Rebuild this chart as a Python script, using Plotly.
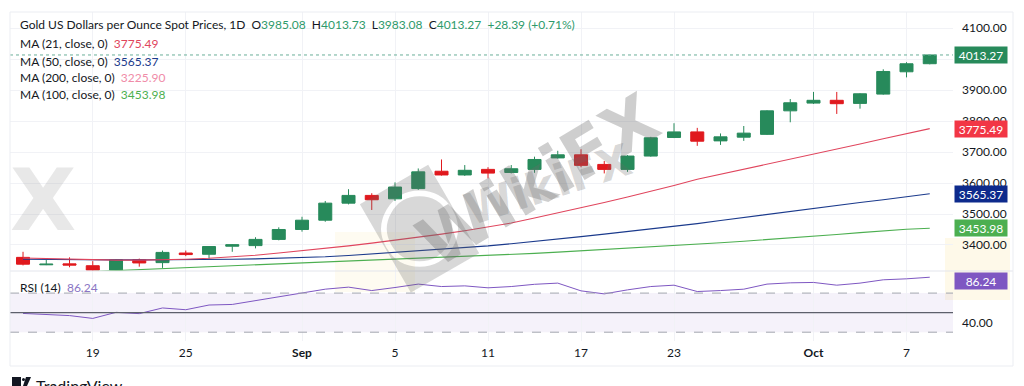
import plotly.graph_objects as go

# ---------------- data ----------------
dates = ["2025-08-14", "2025-08-15", "2025-08-18", "2025-08-19", "2025-08-20", "2025-08-21", "2025-08-22",
         "2025-08-25", "2025-08-26", "2025-08-27", "2025-08-28", "2025-08-29", "2025-09-01", "2025-09-02",
         "2025-09-03", "2025-09-04", "2025-09-05", "2025-09-08", "2025-09-09", "2025-09-10", "2025-09-11",
         "2025-09-12", "2025-09-15", "2025-09-16", "2025-09-17", "2025-09-18", "2025-09-19", "2025-09-22",
         "2025-09-23", "2025-09-24", "2025-09-25", "2025-09-26", "2025-09-29", "2025-09-30", "2025-10-01",
         "2025-10-02", "2025-10-03", "2025-10-06", "2025-10-07", "2025-10-08"]
opens = [3360, 3336, 3339, 3333, 3319, 3352, 3343, 3374, 3370, 3396, 3398, 3418, 3450, 3480, 3535, 3560,
         3549, 3582, 3638, 3626, 3644, 3634, 3644, 3681, 3691, 3660, 3644, 3687, 3747, 3765, 3736, 3748,
         3757, 3833, 3858, 3867, 3857, 3887, 3959, 3985.08]
highs = [3378, 3352, 3360, 3348, 3354, 3356, 3382, 3382, 3396, 3402, 3425, 3457, 3491, 3542, 3580, 3567,
         3602, 3647, 3676, 3658, 3651, 3658, 3685, 3704, 3709, 3671, 3690, 3749, 3793, 3778, 3760, 3784,
         3835, 3871, 3894, 3894, 3890, 3967, 3990, 4013.73]
lows = [3334, 3335, 3328, 3317, 3316, 3330, 3326, 3364, 3355, 3378, 3389, 3415, 3443, 3475, 3531, 3513,
        3542, 3578, 3624, 3623, 3615, 3631, 3633, 3679, 3651, 3631, 3636, 3685, 3745, 3720, 3723, 3736,
        3755, 3796, 3855, 3823, 3840, 3885, 3941, 3983.08]
closes = [3338, 3338, 3335, 3319, 3352, 3342, 3376, 3369, 3395, 3401, 3418, 3450, 3480, 3535, 3560, 3546,
          3587, 3636, 3626, 3641, 3632, 3646, 3676, 3691, 3657, 3644, 3687, 3746, 3765, 3735, 3749, 3761,
          3833, 3859, 3867, 3856, 3888, 3960, 3984.88, 4013.27]
ma21 = [3358, 3356, 3354, 3352, 3351, 3351, 3352, 3354, 3357, 3361, 3367, 3374, 3381, 3389, 3397, 3406,
        3415, 3425, 3435, 3446, 3458, 3471, 3487, 3503, 3520, 3537, 3555, 3573, 3592, 3612, 3628, 3645,
        3661, 3677, 3694, 3710, 3726, 3743, 3759, 3775.49]
ma50 = [3354, 3353, 3352, 3352, 3352, 3352, 3352, 3353, 3353, 3354, 3355, 3357, 3359, 3362, 3366, 3371,
        3376, 3381, 3386, 3391, 3397, 3404, 3411, 3419, 3427, 3435, 3443, 3451, 3460, 3469, 3479, 3489,
        3499, 3508, 3518, 3527, 3537, 3546, 3556, 3565.37]
ma100 = [3305, 3308, 3311, 3314, 3317, 3320, 3323, 3326, 3329, 3332, 3335, 3338, 3341, 3344, 3347, 3350,
         3353, 3356, 3359, 3362, 3365, 3369, 3373, 3377, 3381, 3385, 3389, 3393, 3397, 3402, 3407, 3412,
         3417, 3422, 3428, 3434, 3440, 3446, 3451, 3453.98]
ma200_last = 3225.90
rsi = [49.2, 48.0, 47.0, 44.1, 50.3, 49.0, 54.8, 53.0, 57.8, 58.4, 62.2, 66.6, 69.9, 74.0, 76.1, 72.6,
       75.7, 79.2, 76.7, 77.4, 75.4, 76.7, 79.0, 80.2, 72.3, 69.2, 73.3, 76.7, 78.1, 71.6, 72.6, 74.0,
       79.2, 80.5, 80.9, 78.1, 80.2, 83.6, 84.6, 86.24]
tick_dates = ["2025-08-19", "2025-08-25", "2025-09-01", "2025-09-05", "2025-09-11", "2025-09-17",
              "2025-09-23", "2025-10-01", "2025-10-07"]
tick_labels = ["19", "25", "<b>Sep</b>", "5", "11", "17", "23", "<b>Oct</b>", "7"]
price_ticks = [3400, 3500, 3600, 3700, 3800, 3900, 4000, 4100]

# ---------------- style ----------------
UP = "#278a5b"
DOWN = "#e0191e"
C_MA21 = "#e0455d"
C_MA50 = "#1b3a8c"
C_MA100 = "#4caf50"
C_MA200 = "#f08ca8"
C_RSI = "#7e57c2"
TXT = "#131722"
FONT = "Lato"

W, H = 1024, 386
ML, MR, MT, MB = 10, 71, 12, 45
PW = W - ML - MR
PH = H - MT - MB
RSI_FRAC = 70 / PH


def px_x(x):
    return (x - ML) / PW


def px_y(y):
    return (H - MB - y) / PH


fig = go.Figure()

fig.add_trace(go.Candlestick(
    x=dates, open=opens, high=highs, low=lows, close=closes,
    increasing=dict(line=dict(color=UP, width=1), fillcolor=UP),
    decreasing=dict(line=dict(color=DOWN, width=1), fillcolor=DOWN),
    whiskerwidth=0, xaxis="x", yaxis="y", showlegend=False, hoverinfo="skip"))

for vals, col in [(ma100, C_MA100), (ma50, C_MA50), (ma21, C_MA21)]:
    fig.add_trace(go.Scatter(x=dates, y=vals, mode="lines", line=dict(color=col, width=1.1),
                             xaxis="x", yaxis="y", showlegend=False, hoverinfo="skip"))

fig.add_trace(go.Scatter(x=dates, y=rsi, mode="lines", line=dict(color=C_RSI, width=1),
                         xaxis="x", yaxis="y2", showlegend=False, hoverinfo="skip"))

shapes = []
# watermark blobs (faint, behind)
shapes.append(dict(type="rect", xref="paper", yref="paper", x0=px_x(335), x1=px_x(415), y0=px_y(292),
                   y1=px_y(232), fillcolor="rgba(250,215,120,0.10)", line=dict(width=0), layer="below"))
shapes.append(dict(type="rect", xref="paper", yref="paper", x0=px_x(945), x1=px_x(1010), y0=px_y(300),
                   y1=px_y(238), fillcolor="rgba(250,215,120,0.16)", line=dict(width=0), layer="below"))
# RSI band
shapes.append(dict(type="rect", xref="paper", yref="y2", x0=0, x1=1, y0=30, y1=70,
                   fillcolor="rgba(126,87,194,0.08)", line=dict(width=0), layer="below"))
for lvl in (70, 30):
    shapes.append(dict(type="line", xref="paper", yref="y2", x0=0, x1=1, y0=lvl, y1=lvl,
                       line=dict(color="#a3a6af", width=1, dash="dash")))
shapes.append(dict(type="line", xref="paper", yref="y2", x0=0, x1=1, y0=50, y1=50,
                   line=dict(color="#5d606b", width=1.2)))
# close price dotted line
shapes.append(dict(type="line", xref="paper", yref="y", x0=0, x1=1, y0=closes[-1], y1=closes[-1],
                   line=dict(color="#6aae9a", width=1, dash="dot")))
# pane separator
shapes.append(dict(type="line", xref="paper", yref="paper", x0=0, x1=px_x(1013), y0=RSI_FRAC, y1=RSI_FRAC,
                   line=dict(color="#e3e5ec", width=1)))
# outer frame
shapes.append(dict(type="rect", xref="paper", yref="paper", x0=px_x(10), x1=px_x(1013), y0=px_y(366),
                   y1=px_y(12), line=dict(color="#ebedf2", width=1)))
# TradingView logo (approx)
shapes.append(dict(type="rect", xref="paper", yref="paper", x0=px_x(12), x1=px_x(21), y0=px_y(386),
                   y1=px_y(377), fillcolor=TXT, line=dict(width=0)))
shapes.append(dict(type="circle", xref="paper", yref="paper", x0=px_x(22), x1=px_x(25), y0=px_y(381),
                   y1=px_y(378), fillcolor=TXT, line=dict(width=0)))
shapes.append(dict(type="path", xref="paper", yref="paper",
                   path=f"M {px_x(26)} {px_y(377)} L {px_x(31)} {px_y(377)} L {px_x(27)} {px_y(386)} L {px_x(23)} {px_y(386)} Z",
                   fillcolor=TXT, line=dict(width=0)))

ann = []

# watermarks (behind labels)
WM = "rgba(105,105,105,0.33)"
ann.append(dict(xref="paper", yref="paper", x=px_x(538), y=px_y(180), showarrow=False, textangle=-31,
                text="<b>WikiFX</b>", font=dict(family="DejaVu Sans", size=68, color=WM)))
ann.append(dict(xref="paper", yref="paper", x=px_x(548), y=px_y(238), showarrow=False, textangle=-18,
                text="<b>WikiFX</b>", font=dict(family="DejaVu Sans", size=44, color="rgba(105,105,105,0.26)")))
ann.append(dict(xref="paper", yref="paper", x=px_x(415), y=px_y(222), showarrow=False, textangle=-30,
                text="<b>◙</b>", font=dict(family="DejaVu Sans", size=100, color="rgba(105,105,105,0.26)")))
ann.append(dict(xref="paper", yref="paper", x=px_x(8), y=px_y(200), showarrow=False,
                text="<b>X</b>", font=dict(family="DejaVu Sans", size=86, color="rgba(150,150,150,0.22)")))


def legend_line(y, label, value, color):
    ann.append(dict(xref="paper", yref="paper", x=px_x(18), y=px_y(y), xanchor="left", yanchor="middle",
                    showarrow=False, font=dict(family=FONT, size=12, color=TXT),
                    text=f"{label}&nbsp;&nbsp;<span style='color:{color}'>{value}</span>"))


chg = closes[-1] - closes[-2]
pct = chg / closes[-2] * 100
G = "#2e9a6b"
head = ("Gold US Dollars per Ounce Spot Prices, 1D&nbsp;&nbsp;"
        f"O<span style='color:{G}'>{opens[-1]:.2f}</span>&nbsp;&nbsp;"
        f"H<span style='color:{G}'>{highs[-1]:.2f}</span>&nbsp;&nbsp;"
        f"L<span style='color:{G}'>{lows[-1]:.2f}</span>&nbsp;&nbsp;"
        f"C<span style='color:{G}'>{closes[-1]:.2f}</span>&nbsp;&nbsp;"
        f"<span style='color:{G}'>{chg:+.2f} ({pct:+.2f}%)</span>")
ann.append(dict(xref="paper", yref="paper", x=px_x(18), y=px_y(25), xanchor="left", yanchor="middle",
                showarrow=False, font=dict(family=FONT, size=12, color=TXT), text=head))
legend_line(43, "MA (21, close, 0)", f"{ma21[-1]:.2f}", C_MA21)
legend_line(61, "MA (50, close, 0)", f"{ma50[-1]:.2f}", C_MA50)
legend_line(78, "MA (200, close, 0)", f"{ma200_last:.2f}", C_MA200)
legend_line(95, "MA (100, close, 0)", f"{ma100[-1]:.2f}", C_MA100)
legend_line(287, "RSI (14)", f"{rsi[-1]:.2f}", "#8a75c4")

# right-axis value boxes
for val, col, yref, ysh in [(closes[-1], UP, "y", 0), (ma21[-1], "#f23645", "y", 0),
                            (ma50[-1], "#0d2a8c", "y", 0), (ma100[-1], C_MA100, "y", 0),
                            (rsi[-1], C_RSI, "y2", -4)]:
    ann.append(dict(xref="paper", yref=yref, x=1.001, y=val, yshift=ysh, xanchor="left", yanchor="middle",
                    showarrow=False, text=f"{val:.2f}", bgcolor=col, width=50, height=14, borderpad=1,
                    font=dict(family=FONT, size=12, color="white")))

# TradingView brand (cut by the bottom edge, as in the source)
ann.append(dict(xref="paper", yref="paper", x=px_x(34), y=px_y(374), xanchor="left", yanchor="top",
                showarrow=False, text="TradingView", font=dict(family=FONT, size=16, color=TXT)))

fig.update_layout(
    width=W, height=H, margin=dict(l=ML, r=MR, t=MT, b=MB),
    paper_bgcolor="white", plot_bgcolor="rgba(0,0,0,0)",
    font=dict(family=FONT, size=12, color=TXT),
    showlegend=False, shapes=shapes, annotations=ann, boxgap=0.2,
    xaxis=dict(type="category", domain=[0, 1], anchor="y2", range=[-0.56, 40.0],
               tickvals=tick_dates, ticktext=tick_labels, showgrid=True, gridcolor="#f1f2f6",
               rangeslider=dict(visible=False), showline=False, zeroline=False, ticks="",
               ticklabelstandoff=3, tickfont=dict(family=FONT, size=12, color=TXT)),
    yaxis=dict(domain=[RSI_FRAC, 1], range=[3316, 4152], side="right", tickvals=price_ticks,
               ticktext=[f"{v:.2f}" for v in price_ticks], showgrid=True, gridcolor="#f1f2f6",
               zeroline=False, showline=False, ticks="", ticklabelstandoff=8,
               tickfont=dict(family=FONT, size=12, color=TXT)),
    yaxis2=dict(domain=[0, RSI_FRAC], range=[21, 92.6], side="right", tickvals=[40], ticktext=["40.00"],
                showgrid=False, zeroline=False, showline=False, ticks="", ticklabelstandoff=8,
                tickfont=dict(family=FONT, size=12, color=TXT)),
)

fig.write_html("out.html")
